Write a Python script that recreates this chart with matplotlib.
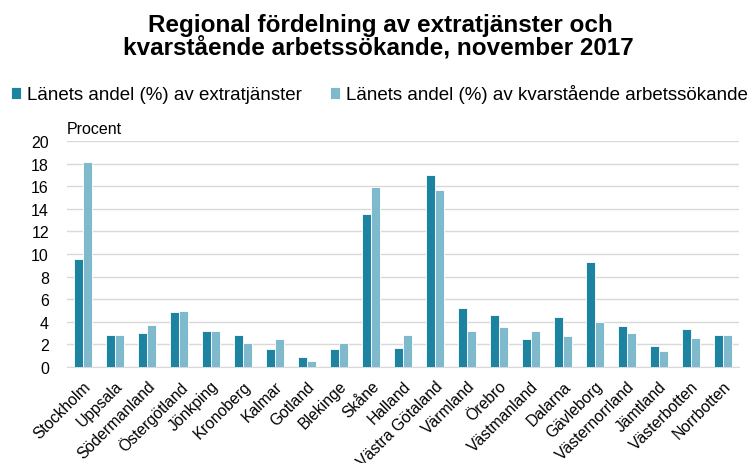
import numpy as np
import matplotlib
matplotlib.use("Agg")
import matplotlib.pyplot as plt

plt.rcParams["font.family"] = ["Liberation Sans", "DejaVu Sans"]

regions = ["Stockholm", "Uppsala", "Södermanland", "Östergötland", "Jönkping",
           "Kronoberg", "Kalmar", "Gotland", "Blekinge", "Skåne", "Halland",
           "Västra Götaland", "Värmland", "Örebro", "Västmanland", "Dalarna",
           "Gävleborg", "Västernorrland", "Jämtland", "Västerbotten", "Norrbotten"]
extratjanster = [9.6, 2.8, 3.0, 4.9, 3.2, 2.8, 1.6, 0.85, 1.6, 13.5, 1.7,
                 17.0, 5.2, 4.6, 2.5, 4.45, 9.3, 3.6, 1.85, 3.4, 2.85]
kvarstaende = [18.1, 2.8, 3.7, 5.0, 3.2, 2.1, 2.5, 0.55, 2.1, 15.9, 2.8,
               15.7, 3.15, 3.55, 3.15, 2.75, 3.95, 3.0, 1.4, 2.55, 2.8]
series_names = ["Länets andel (%) av extratjänster",
                "Länets andel (%) av kvarstående arbetssökande"]
colors = ["#1C84A1", "#7FBACC"]

W, H = 748, 464
fig = plt.figure(figsize=(W / 100, H / 100), dpi=100)
ax = fig.add_axes([67 / W, 1 - 368 / H, 672 / W, 226 / H])

x = np.arange(len(regions))
w = 0.28
ax.bar(x - w / 2, extratjanster, w, color=colors[0], edgecolor="white",
       linewidth=0.6, label=series_names[0], zorder=3)
ax.bar(x + w / 2, kvarstaende, w, color=colors[1], edgecolor="white",
       linewidth=0.6, label=series_names[1], zorder=3)

ax.set_xlim(-0.5, len(regions) - 0.5)
ax.set_ylim(0, 20)
ax.set_yticks(range(0, 21, 2))
ax.tick_params(axis="y", length=0, labelsize=11.5, pad=13)
ax.tick_params(axis="x", length=0, labelsize=11.3, pad=8)
ax.set_xticks(x)
ax.set_xticklabels(regions, rotation=45, ha="right", rotation_mode="anchor")
ax.yaxis.grid(True, color="#D9D9D9", linewidth=1, zorder=0)
for s in ["top", "right", "left"]:
    ax.spines[s].set_visible(False)
ax.spines["bottom"].set_color("#D9D9D9")

fig.text(67 / W, 1 - 130 / H, "Procent", fontsize=11.5, va="center")

# title, two lines placed by baseline
fig.text(380 / W, 1 - 32 / H, "Regional fördelning av extratjänster och",
         ha="center", va="baseline", fontsize=17.5, fontweight="bold")
fig.text(378 / W, 1 - 55 / H, "kvarstående arbetssökande, november 2017",
         ha="center", va="baseline", fontsize=17.5, fontweight="bold")

fig.legend(loc="center left", bbox_to_anchor=(11 / W, 1 - 95 / H), ncol=2,
           frameon=False, fontsize=13.5, handlelength=0.55, handleheight=0.55,
           handletextpad=0.3, columnspacing=1.5, borderaxespad=0,
           borderpad=0)

fig.savefig("out.png", dpi=100)
